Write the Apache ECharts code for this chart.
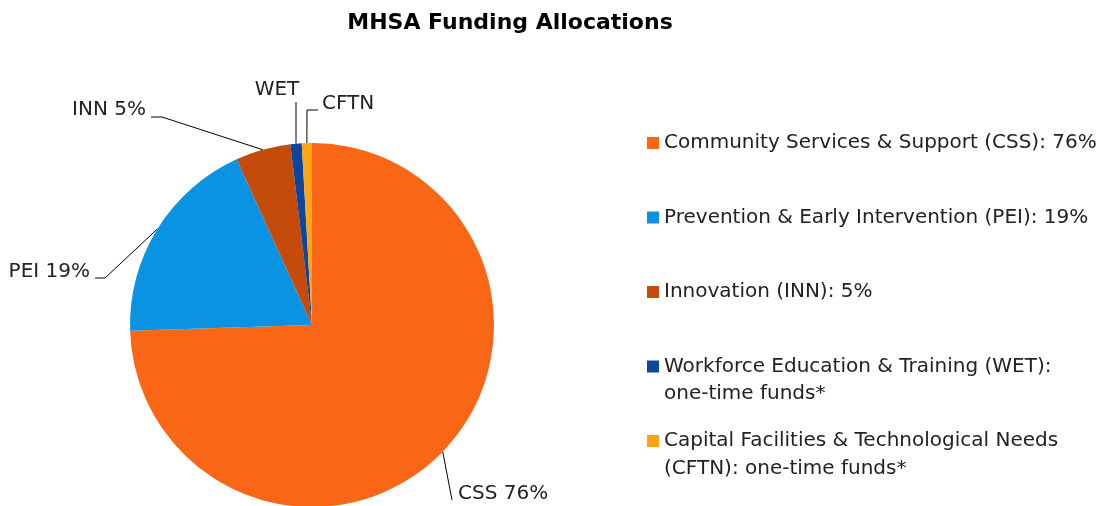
<!DOCTYPE html>
<html>
<head>
<meta charset="utf-8">
<script src="https://cdn.jsdelivr.net/npm/echarts@6/dist/echarts.min.js"></script>
<style>
  html, body { margin: 0; padding: 0; background: #fff; }
  #main { width: 1119px; height: 506px; }
</style>
</head>
<body>
<div id="main"></div>
<script>
// slice shares (percent of total)
var categories = ['CSS', 'PEI', 'INN', 'WET', 'CFTN'];
var shares = [74.5, 18.7, 4.9, 1.0, 0.9];
var sliceLabels = ['CSS 76%', 'PEI 19%', 'INN 5%', 'WET', 'CFTN'];
var legendNames = [
    'Community Services & Support (CSS): 76%',
    'Prevention & Early Intervention (PEI): 19%',
    'Innovation (INN): 5%',
    'Workforce Education & Training (WET):',
    'Capital Facilities & Technological Needs'
];
var legendSecondLines = ['', '', '', 'one-time funds*', '(CFTN): one-time funds*'];
var colors = ['#F96616', '#0A93E3', '#C44B0A', '#0B479E', '#FFA413'];

var FONT = 'DejaVu Sans';

// where each slice label sits, and the bend of its leader line
var labelSpots = [
    { x: 458, y: 494, align: 'left', line: [[452, 500]] },
    { x: 90, y: 272, align: 'right', line: [[105, 278], [95, 278]] },
    { x: 146, y: 110, align: 'right', line: [[162, 117], [151, 117]] },
    { x: 277, y: 90, align: 'center', line: [[296, 102]] },
    { x: 322, y: 104, align: 'left', line: [[307, 110], [318, 110]] }
];

var myChart = echarts.init(document.getElementById('main'));

var pieData = categories.map(function (c, i) {
    return { name: legendNames[i], value: shares[i], itemStyle: { color: colors[i] } };
});

var secondLineTexts = [];
legendSecondLines.forEach(function (t, i) {
    if (!t) return;
    secondLineTexts.push({
        type: 'text',
        left: 664,
        top: 142 + i * 74.5 + 18.5,
        style: { text: t, fontFamily: FONT, fontSize: 20, fill: '#222' }
    });
});

myChart.setOption({
    animation: false,
    title: {
        text: 'MHSA Funding Allocations',
        left: 505,
        textAlign: 'center',
        top: 7,
        textStyle: { fontFamily: FONT, fontSize: 22, fontWeight: 'bold', color: '#000' }
    },
    legend: {
        orient: 'vertical',
        left: 642,
        top: 128,
        itemWidth: 12,
        itemHeight: 12,
        itemGap: 54.5,
        icon: 'rect',
        data: legendNames,
        selectedMode: false,
        textStyle: { fontFamily: FONT, fontSize: 20, color: '#222' }
    },
    graphic: secondLineTexts,
    series: [{
        type: 'pie',
        center: [312, 325],
        radius: 182,
        startAngle: 90,
        data: pieData,
        label: {
            show: true,
            formatter: function (p) { return sliceLabels[p.dataIndex]; },
            fontFamily: FONT,
            fontSize: 20,
            color: '#222'
        },
        labelLine: {
            show: true,
            lineStyle: { color: '#000', width: 1 }
        },
        labelLayout: function (params) {
            var s = labelSpots[params.dataIndex];
            var pts = [params.labelLinePoints[0]].concat(s.line);
            if (pts.length < 3) pts.push(pts[pts.length - 1]);
            return {
                x: s.x,
                y: s.y,
                align: s.align,
                verticalAlign: 'middle',
                labelLinePoints: pts
            };
        }
    }]
});
</script>
</body>
</html>
